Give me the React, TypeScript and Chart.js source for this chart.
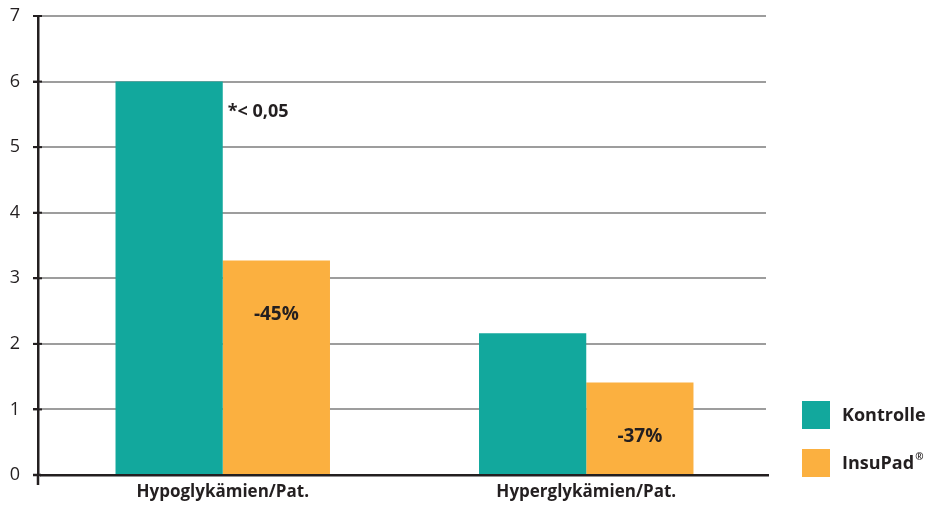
import React, { useEffect, useRef } from "react";
import { Chart, registerables } from "chart.js";

Chart.register(...registerables);

// Events per patient, control vs. InsuPad
const categories = ["Hypoglykämien/Pat.", "Hyperglykämien/Pat."];
const kontrolle = [6.0, 2.16];
const insuPad = [3.27, 1.41];
const reductionLabels = ["-45%", "-37%"];
const significanceLabel = "*< 0,05";
const seriesNames = ["Kontrolle", "InsuPad"];

const TEAL = "#12a89d";
const ORANGE = "#fbb040";
const INK = "#231f20";
const FONT = "'Open Sans', 'Noto Sans', sans-serif";

// nudges the category axis a little to the right of the value axis
const shiftCategoryAxis = {
  id: "shiftCategoryAxis",
  afterLayout(chart: any) {
    const x = chart.scales.x;
    x.left += 3;
    x.right += 2;
    x.configure();
  },
};

const annotations = {
  id: "annotations",
  afterDraw(chart: any) {
    const ctx = chart.ctx;
    const yScale = chart.scales.y;
    const area = chart.chartArea;
    ctx.save();

    // extend the value axis below zero and add small crosses at each tick
    ctx.strokeStyle = INK;
    ctx.lineWidth = 2.5;
    ctx.beginPath();
    ctx.moveTo(area.left, area.bottom);
    ctx.lineTo(area.left, area.bottom + 10);
    ctx.moveTo(area.left - 5, area.bottom);
    ctx.lineTo(chart.scales.x.left, area.bottom);
    ctx.stroke();
    ctx.lineWidth = 2;
    yScale.ticks.forEach((_t: any, i: number) => {
      const y = yScale.getPixelForTick(i);
      ctx.beginPath();
      ctx.moveTo(area.left - 5, y);
      ctx.lineTo(area.left + 4, y);
      ctx.stroke();
    });

    // significance note next to the first control bar
    const k0 = chart.getDatasetMeta(0).data[0];
    ctx.fillStyle = INK;
    ctx.font = `bold 18px ${FONT}`;
    ctx.textAlign = "left";
    ctx.textBaseline = "middle";
    ctx.fillText(significanceLabel, k0.x + k0.width / 2 + 5, k0.y + 30);

    // reduction labels inside the InsuPad bars
    const meta = chart.getDatasetMeta(1);
    ctx.font = `bold 19px ${FONT}`;
    ctx.textAlign = "center";
    meta.data.forEach((bar: any, i: number) => {
      ctx.fillText(reductionLabels[i], bar.x, bar.y + 54);
    });

    // legend
    const lx = 802;
    const items = [
      { color: TEAL, text: seriesNames[0], y: 401 },
      { color: ORANGE, text: seriesNames[1], y: 449 },
    ];
    items.forEach((it, i) => {
      ctx.fillStyle = it.color;
      ctx.fillRect(lx, it.y, 28, 28);
      ctx.fillStyle = INK;
      ctx.font = `bold 18px ${FONT}`;
      ctx.textAlign = "left";
      ctx.textBaseline = "middle";
      ctx.fillText(it.text, lx + 40, it.y + 15);
      if (i === 1) {
        const w = ctx.measureText(it.text).width;
        ctx.font = `bold 10px ${FONT}`;
        ctx.fillText("®", lx + 41 + w, it.y + 8);
      }
    });

    ctx.restore();
  },
};

export default function App() {
  const ref = useRef<HTMLCanvasElement | null>(null);

  useEffect(() => {
    if (!ref.current) return;
    const chart = new Chart(ref.current, {
      type: "bar",
      data: {
        labels: categories,
        datasets: [
          {
            label: seriesNames[0],
            data: kontrolle,
            backgroundColor: TEAL,
            categoryPercentage: 0.59,
            barPercentage: 1,
          },
          {
            label: seriesNames[1],
            data: insuPad,
            backgroundColor: ORANGE,
            categoryPercentage: 0.59,
            barPercentage: 1,
          },
        ],
      },
      options: {
        animation: false,
        responsive: false,
        layout: { padding: { top: 16, right: 159, left: 0, bottom: 0 } },
        plugins: {
          legend: { display: false },
          tooltip: { enabled: false },
        },
        scales: {
          x: {
            grid: { display: false, drawTicks: false },
            border: { color: INK, width: 2.5 },
            ticks: {
              color: INK,
              font: { family: FONT, size: 17, weight: "bold" },
              padding: 7,
            },
            afterFit: (s: any) => {
              s.height = 32;
              s.paddingLeft = 0;
              s.paddingRight = 0;
            },
          },
          y: {
            min: 0,
            max: 7,
            ticks: {
              stepSize: 1,
              color: INK,
              font: { family: FONT, size: 18 },
              padding: 13,
            },
            grid: {
              color: "#9d9d9d",
              lineWidth: 2,
              tickLength: 5,
              tickColor: INK,
            },
            border: { color: INK, width: 2.5 },
            afterFit: (s: any) => {
              s.width = 38;
              s.paddingTop = 0;
              s.paddingBottom = 0;
            },
          },
        },
      },
      plugins: [shiftCategoryAxis, annotations],
    });
    return () => chart.destroy();
  }, []);

  return (
    <div style={{ position: "fixed", left: 0, top: 0, width: 925, height: 507, background: "#fff" }}>
      <canvas ref={ref} width={925} height={507} />
    </div>
  );
}
